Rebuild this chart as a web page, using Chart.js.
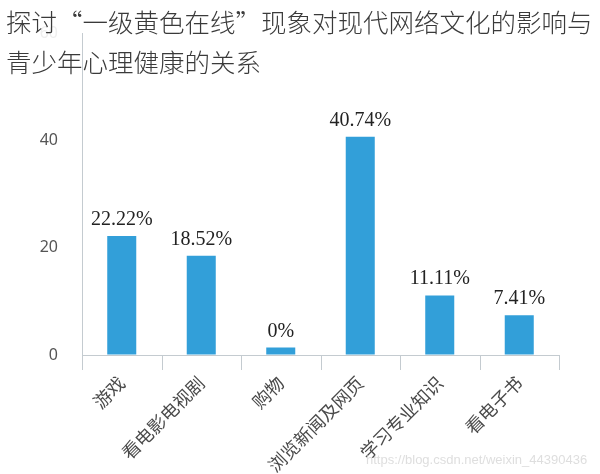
<!DOCTYPE html>
<html><head><meta charset="utf-8">
<script src="https://cdn.jsdelivr.net/npm/chart.js@4"></script>
<style>html,body{margin:0;padding:0;background:#fff;}canvas{display:block;}</style>
</head><body>
<canvas id="c" width="600" height="474"></canvas>
<script>
const titleLines = ['探讨“一级黄色在线”现象对现代网络文化的影响与', '青少年心理健康的关系'];
const categories = ['游戏', '看电影电视剧', '购物', '浏览新闻及网页', '学习专业知识', '看电子书'];
const values = [22.22, 18.52, 1.4, 40.74, 11.11, 7.41];
const valueLabels = ['22.22%', '18.52%', '0%', '40.74%', '11.11%', '7.41%'];
const yTicks = [0, 20, 40, 60];
const watermark = 'https://blog.csdn.net/weixin_44390436';

const overlay = {
  id: 'overlay',
  afterDatasetsDraw(chart) {
    const ctx = chart.ctx;
    const meta = chart.getDatasetMeta(0);
    ctx.save();
    ctx.font = '20px "Liberation Serif", "Times New Roman", serif';
    ctx.fillStyle = '#222';
    ctx.textAlign = 'center';
    ctx.textBaseline = 'alphabetic';
    meta.data.forEach((bar, i) => {
      ctx.fillText(valueLabels[i], bar.x, bar.y - 11);
    });
    ctx.restore();
  },
  afterDraw(chart) {
    const ctx = chart.ctx;
    const xs = chart.scales.x;
    const area = chart.chartArea;
    // category boundary tick marks below the x axis
    const step = xs.getPixelForValue(1) - xs.getPixelForValue(0);
    ctx.save();
    ctx.strokeStyle = '#c4cbd0';
    ctx.lineWidth = 1;
    ctx.beginPath();
    for (let i = 0; i <= categories.length; i++) {
      const x = Math.round(xs.getPixelForValue(i) - step / 2) + 0.5;
      ctx.moveTo(x, area.bottom);
      ctx.lineTo(x, area.bottom + 15);
    }
    ctx.stroke();
    ctx.restore();

    ctx.save();
    ctx.font = '300 25.5px "Noto Sans CJK SC", sans-serif';
    ctx.fillStyle = '#3a3a3a';
    ctx.textAlign = 'left';
    ctx.textBaseline = 'middle';
    ctx.fillText(titleLines[0], 6, 22);
    ctx.fillText(titleLines[1], 6, 62);
    ctx.font = '13px "Liberation Sans", sans-serif';
    ctx.fillStyle = 'rgba(200,200,200,0.6)';
    ctx.fillText(watermark, 366, 460);
    ctx.restore();
  }
};

new Chart(document.getElementById('c'), {
  type: 'bar',
  data: {
    labels: categories,
    datasets: [{
      data: values,
      backgroundColor: '#329fd9',
      barPercentage: 0.73,
      categoryPercentage: 0.5
    }]
  },
  options: {
    responsive: false,
    animation: false,
    devicePixelRatio: 1,
    layout: { padding: { top: 28, right: 41, left: 0, bottom: 0 } },
    plugins: { legend: { display: false }, tooltip: { enabled: false } },
    scales: {
      x: {
        offset: true,
        grid: { display: true, drawOnChartArea: false, drawTicks: true, tickLength: 15, color: 'rgba(0,0,0,0)' },
        border: { display: true, color: '#c4cbd0' },
        ticks: {
          minRotation: 45, maxRotation: 45, padding: 2,
          font: { family: '"Noto Sans CJK SC", sans-serif', size: 18 },
          color: '#4a4a4a'
        },
        afterFit(scale) { scale.height = 119; }
      },
      y: {
        min: 0, max: 60,
        afterBuildTicks(scale) { scale.ticks = yTicks.map(v => ({ value: v })); },
        grid: { display: true, drawOnChartArea: false, drawTicks: false, color: '#c4cbd0' },
        border: { display: true, color: '#c4cbd0' },
        ticks: {
          padding: 24,
          font: { family: '"Noto Sans", sans-serif', size: 16 },
          color: (ctx) => ctx.tick && ctx.tick.value === 60 ? '#eeeeee' : '#555'
        },
        afterFit(scale) { scale.width = 82; }
      }
    }
  },
  plugins: [overlay]
});
</script>
</body></html>
